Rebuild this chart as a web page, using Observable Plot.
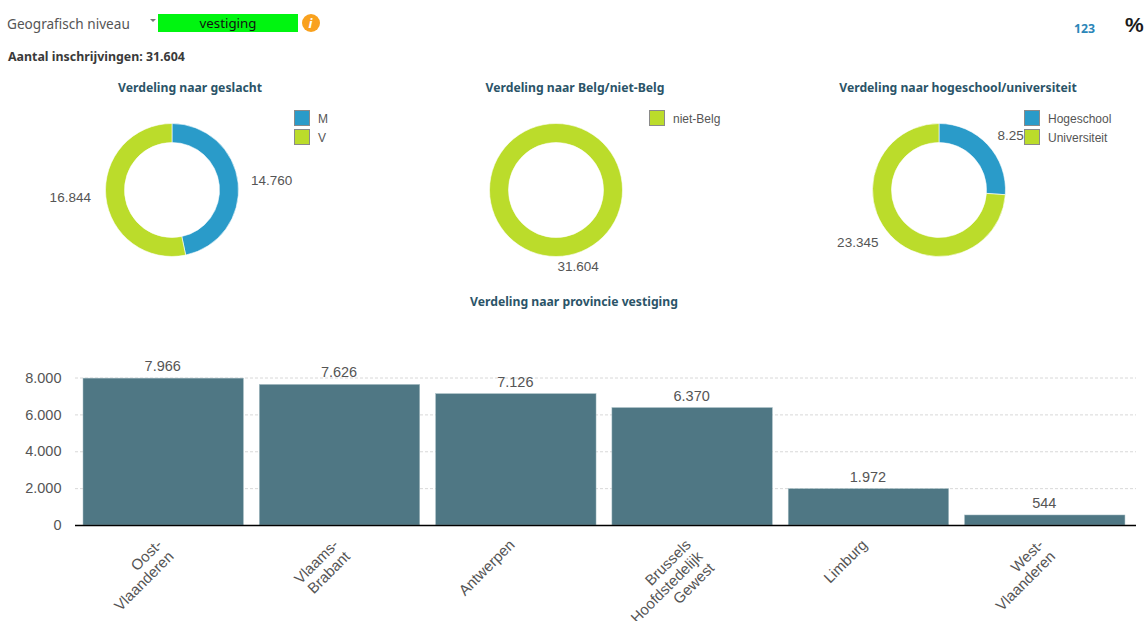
<!DOCTYPE html>
<html><head><meta charset="utf-8">
<script src="https://cdn.jsdelivr.net/npm/d3@7"></script>
<script src="https://cdn.jsdelivr.net/npm/@observablehq/plot@0.6"></script>
<style>
html,body{margin:0;padding:0;background:#fff;overflow:hidden}
#page{position:relative;width:1145px;height:621px;overflow:hidden}
#page svg{position:absolute;background:transparent;overflow:visible}
.t{position:absolute;white-space:nowrap;font-family:"Noto Sans",sans-serif}
.title{font-weight:700;font-size:12.2px;color:#2b5468;transform:translateX(-50%)}
.sw{position:absolute;width:14px;height:14px;border:1px solid #8a8a8a;box-sizing:content-box}
.lg{position:absolute;white-space:nowrap;font-family:"Liberation Sans",Arial,sans-serif;font-size:12px;color:#555}
</style></head><body><div id="page"></div>
<script>
const genderKeys = ["M", "V"];
const genderValues = [14760, 16844];
const genderLabels = ["14.760", "16.844"];
const nationKeys = ["niet-Belg"];
const nationValues = [31604];
const nationLabels = ["31.604"];
const schoolKeys = ["Hogeschool", "Universiteit"];
const schoolValues = [8259, 23345];
const schoolLabels = ["8.25", "23.345"];
const provinces = ["Oost-\nVlaanderen", "Vlaams-\nBrabant", "Antwerpen", "Brussels\nHoofdstedelijk\nGewest", "Limburg", "West-\nVlaanderen"];
const provinceValues = [7966, 7626, 7126, 6370, 1972, 544];
const provinceLabels = ["7.966", "7.626", "7.126", "6.370", "1.972", "544"];
const yTicks = [0, 2000, 4000, 6000, 8000];
const yTickLabels = ["0", "2.000", "4.000", "6.000", "8.000"];
const sliceColors = {"M": "#2a9bc9", "V": "#bbdc2b", "niet-Belg": "#bbdc2b", "Hogeschool": "#2a9bc9", "Universiteit": "#bbdc2b"};

const page = document.getElementById("page");
const AXFONT = '"Liberation Sans",Arial,sans-serif';

function addText(cls, txt, left, top, style) {
  const d = document.createElement("div");
  d.className = cls; d.textContent = txt;
  d.style.left = left + "px"; d.style.top = top + "px";
  Object.assign(d.style, style || {});
  page.appendChild(d);
  return d;
}

function donut(keys, values, labels, cx, cy) {
  const w = 320, h = 220;
  const R = 66.5, r = 47.5, labelR = 78;
  const arcs = d3.pie().sort(null)(values);
  const slices = keys.map((key, i) => {
    const a = (arcs[i].startAngle + arcs[i].endAngle) / 2;
    return {key, value: values[i], label: labels[i], arc: arcs[i],
            px: w / 2 + labelR * Math.sin(a), py: h / 2 - labelR * Math.cos(a), right: Math.sin(a) >= 0};
  });
  const arcGen = d3.arc().innerRadius(r).outerRadius(R);
  const svg = Plot.plot({
    width: w, height: h, margin: 0,
    x: {type: "identity", axis: null}, y: {type: "identity", axis: null},
    color: {domain: keys, range: keys.map(k => sliceColors[k])},
    marks: [
      Plot.dot(slices, {
        frameAnchor: "middle", fill: "key", r: 1,
        render(index, scales, channels, dimensions) {
          const g = d3.create("svg:g").attr("transform", `translate(${dimensions.width / 2},${dimensions.height / 2})`);
          for (const i of index) {
            g.append("path").attr("d", arcGen(slices[i].arc))
             .attr("fill", channels.fill[i]).attr("stroke", "#ffffff").attr("stroke-width", 0.6);
          }
          return g.node();
        }
      }),
      Plot.text(slices.filter(d => d.right), {x: "px", y: "py", text: "label", textAnchor: "start", fontSize: 13.5, fontFamily: AXFONT, fill: "#555", dx: 1, dy: -1.5}),
      Plot.text(slices.filter(d => !d.right), {x: "px", y: "py", text: "label", textAnchor: "end", fontSize: 13.5, fontFamily: AXFONT, fill: "#555", dx: -4, dy: -1})
    ]
  });
  svg.style.left = (cx - w / 2) + "px";
  svg.style.top = (cy - h / 2) + "px";
  page.appendChild(svg);
}

function legend(keys, swX) {
  keys.forEach((k, i) => {
    const s = document.createElement("div");
    s.className = "sw";
    s.style.left = swX + "px"; s.style.top = (110 + i * 19) + "px";
    s.style.background = sliceColors[k];
    page.appendChild(s);
    addText("lg", k, swX + 24, 111.5 + i * 19);
  });
}

donut(genderKeys, genderValues, genderLabels, 172, 189.5);
donut(nationKeys, nationValues, nationLabels, 556, 189.5);
donut(schoolKeys, schoolValues, schoolLabels, 939, 189.5);
legend(genderKeys, 294);
legend(nationKeys, 649);
legend(schoolKeys, 1024);

/* header */
addText("t", "Geografisch niveau", 7, 14, {fontSize: "13.6px", color: "#555"});
const caret = document.createElement("div");
Object.assign(caret.style, {position: "absolute", left: "150px", top: "19px", width: 0, height: 0,
  borderLeft: "3.5px solid transparent", borderRight: "3.5px solid transparent", borderTop: "3px solid #777"});
page.appendChild(caret);
addText("t", "vestiging", 158, 14, {width: "140px", height: "18px", lineHeight: "19px", background: "#00f510",
  color: "#111", textAlign: "center", fontSize: "13.3px"});
addText("t", "i", 301.5, 14, {width: "18px", height: "18px", lineHeight: "18px", borderRadius: "50%", background: "#f9a11e",
  color: "#fff", textAlign: "center", fontSize: "13px", fontWeight: "700", fontStyle: "italic"});
addText("t", "123", 1074, 20, {fontSize: "12.3px", fontWeight: "700", color: "#2b86b8"});
addText("t", "%", 1125, 13, {fontSize: "21px", fontWeight: "700", color: "#1a1a1a", fontFamily: AXFONT});
addText("t", "Aantal inschrijvingen: 31.604", 8, 48, {fontSize: "12.4px", fontWeight: "700", color: "#3a3a3a"});
addText("t title", "Verdeling naar geslacht", 190, 79);
addText("t title", "Verdeling naar Belg/niet-Belg", 575, 79);
addText("t title", "Verdeling naar hogeschool/universiteit", 958, 79);
addText("t title", "Verdeling naar provincie vestiging", 574, 293);

/* bars */
const rows = provinces.map((p, i) => ({p, v: provinceValues[i], l: provinceLabels[i]}));

const bar = Plot.plot({
  width: 1145, height: 281,
  marginTop: 37.5, marginBottom: 96, marginLeft: 75, marginRight: 9,
  x: {domain: provinces, paddingInner: 0.09, paddingOuter: 0.054, align: 0.42, round: false, axis: null},
  y: {domain: [0, 8000], axis: null},
  style: {background: "transparent"},
  marks: [
    Plot.ruleY(yTicks.slice(1), {stroke: "#d8d8d8", strokeWidth: 1, strokeDasharray: "3 2"}),
    Plot.axisY({ticks: yTicks, tickFormat: d => yTickLabels[yTicks.indexOf(d)], tickSize: 0, tickPadding: 14, label: null,
      fontSize: 14.5, fontFamily: AXFONT, color: "#555"}),
    Plot.barY(rows, {x: "p", y: "v", fill: "#4f7784", stroke: "#a9c0c6", strokeWidth: 0.5}),
    Plot.ruleY([0], {stroke: "#000", strokeWidth: 1.5}),
    Plot.text(rows, {x: "p", y: "v", text: "l", lineAnchor: "bottom", dx: -1, dy: -7.5, fontSize: 14.5, fontFamily: AXFONT, fill: "#555"}),
    Plot.text(rows, {
      x: "p", y: () => 0, text: "p", rotate: -45, textAnchor: "end", lineAnchor: "top",
      fontSize: 15, lineHeight: 1.1, fontFamily: AXFONT, fill: "#555",
      dx: -9, dy: 12
    })
  ]
});
bar.style.left = "0px"; bar.style.top = "340px";
page.appendChild(bar);
</script></body></html>
